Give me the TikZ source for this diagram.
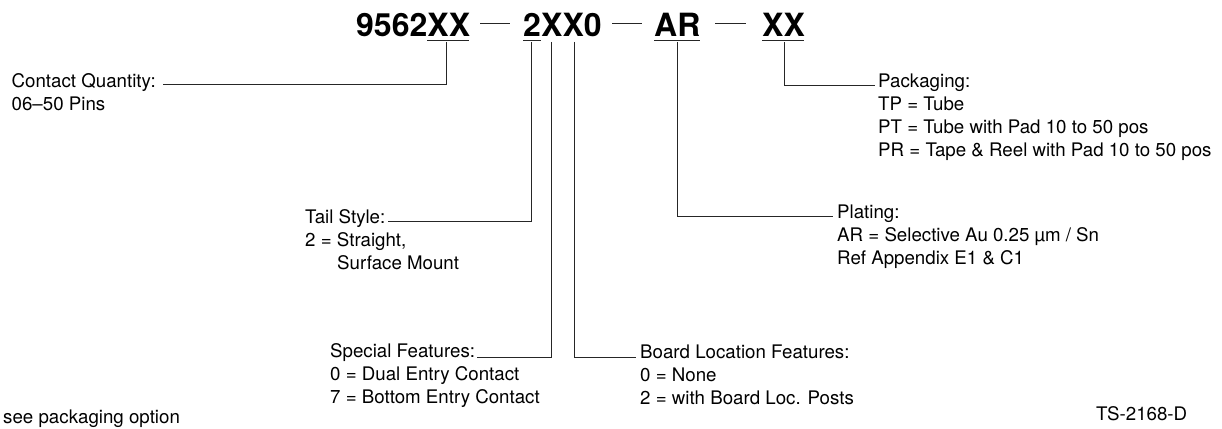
\documentclass[tikz,border=0pt]{standalone}
\usepackage{fontspec}
\setmainfont{TeX Gyre Heros}
\begin{document}
\begin{tikzpicture}[x=1pt,y=-1pt,
  code/.style={font=\fontsize{32}{32}\selectfont\bfseries,inner sep=0pt,anchor=base west},
  note/.style={font=\fontsize{18.7}{23}\selectfont,inner sep=0pt,anchor=base west,align=left},
  lbl/.style={font=\fontsize{18.7}{23}\selectfont,inner sep=0pt,anchor=base west},
  lead/.style={line width=1pt,black!85},
  rule/.style={line width=1.8pt,black!85},
  dashl/.style={line width=1pt,black!85}]
\useasboundingbox (0,0) rectangle (1222,428);
% code string
\node[code] (c1) at (356,37) {9562};
\node[code] (c2) at (427.2,37) {XX};
\node[code] (c3) at (523,37) {2};
\node[code] (c4) at (541,37) {XX0};
\node[code] (c5) at (654,37) {AR};
\node[code] (c6) at (762,37) {XX};
% coordinates of leaders
\coordinate (u2) at (446,42);
\coordinate (u3) at (531,42);
\coordinate (u4a) at (551,42);
\coordinate (u4b) at (574,42);
\coordinate (u5) at (677,42);
\coordinate (u6) at (784,42);
\draw[rule] (427,40.5) -- (469,40.5);
\draw[rule] (523,40.5) -- (541,40.5);
\draw[rule] (654,40.5) -- (700,40.5);
\draw[rule] (762,40.5) -- (804,40.5);
\draw[dashl] (480,24) -- (510,24);
\draw[dashl] (612,24) -- (642,24);
\draw[dashl] (715,24) -- (746,24);
% notes (base anchor sits on the last line)
\node[note] (n1) at (11.5,110) {Contact Quantity:\\06--50 Pins};
\node[note] (n2) at (305,269) {Tail Style:\\2 = Straight,\\\hspace*{32pt}Surface Mount};
\node[note] (n3) at (330,403) {Special Features:\\0 = Dual Entry Contact\\7 = Bottom Entry Contact};
\node[note] (n4) at (640,404) {Board Location Features:\\0 = None\\2 = with Board Loc. Posts};
\node[note] (n5) at (837,264) {Plating:\\AR = Selective Au 0.25 µm / Sn\\Ref Appendix E1 \& C1};
\node[note] (n6) at (878,156) {Packaging:\\TP = Tube\\PT = Tube with Pad 10 to 50 pos\\PR = Tape \& Reel with Pad 10 to 50 pos};
\node[lbl] (n7) at (3,423) {see packaging option};
\node[lbl] (n8) at (1096,420.5) {TS-2168-D};
% leaders
\coordinate (e1) at (163,84);
\coordinate (e2) at (388,221);
\coordinate (e3) at (477,357);
\coordinate (e4) at (636,357);
\coordinate (e5) at (833,216);
\coordinate (e6) at (875,85.5);
\draw[lead] (u2) |- (e1);
\draw[lead] (u3) |- (e2);
\draw[lead] (u4a) |- (e3);
\draw[lead] (u4b) |- (e4);
\draw[lead] (u5) |- (e5);
\draw[lead] (u6) |- (e6);
\end{tikzpicture}
\end{document}
